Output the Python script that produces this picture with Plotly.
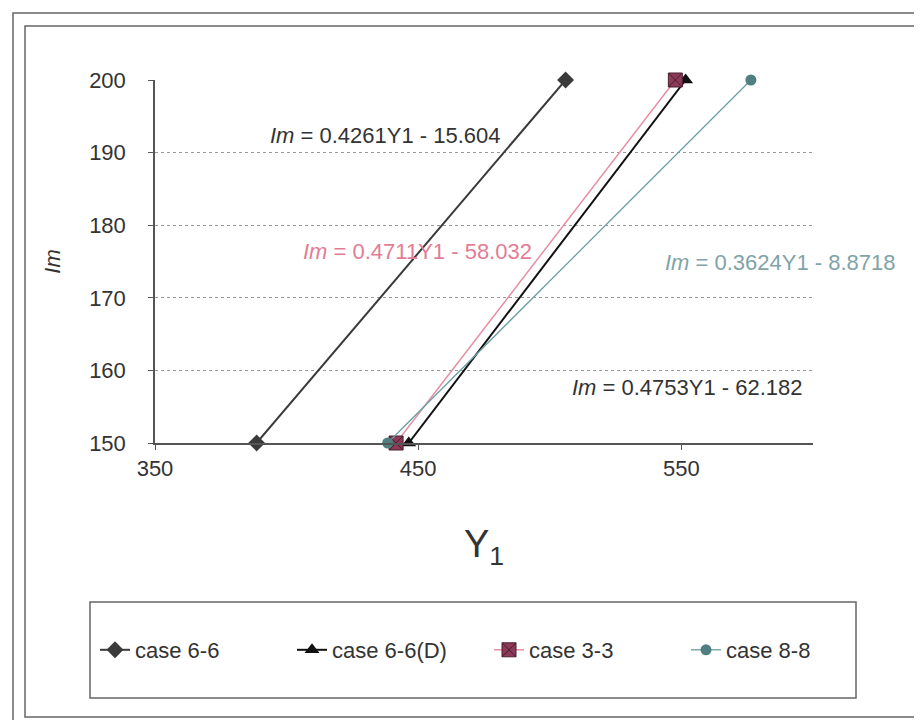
import plotly.graph_objects as go

# dados (Im x Y1)
casos = ["case 6-6", "case 6-6(D)", "case 3-3", "case 8-8"]
y1_66 = [388.6, 506.0]
y1_66d = [446.4, 551.6]
y1_33 = [441.6, 547.7]
y1_88 = [438.4, 576.4]
im_vals = [150, 200]

equacoes = ["<i>Im</i> = 0.4261Y1 - 15.604",
            "<i>Im</i> = 0.4711Y1 - 58.032",
            "<i>Im</i> = 0.3624Y1 - 8.8718",
            "<i>Im</i> = 0.4753Y1 - 62.182"]
eq_x = [437.4, 449.9, 587.5, 552.5]
eq_y = [192.3, 176.4, 174.8, 157.6]

fonte = "Liberation Sans, Arial, sans-serif"

# margens do grafico em pixels
L, R, T, B = 147, 117, 72, 285
W, H = 922, 720
pw, ph = W - L - R, H - T - B

def px(x):
    return (x - L) / pw

def py(y):
    return (H - B - y) / ph

fig = go.Figure()
fig.add_trace(go.Scatter(x=y1_66, y=im_vals, name=casos[0], mode="lines+markers",
                         line=dict(color="#3a3a3a", width=2), cliponaxis=False,
                         marker=dict(symbol="diamond", size=13, color="#3a3a3a")))
fig.add_trace(go.Scatter(x=y1_66d, y=im_vals, name=casos[1], mode="lines+markers",
                         line=dict(color="#111111", width=2), cliponaxis=False,
                         marker=dict(symbol="triangle-up", size=13, color="#111111")))
fig.add_trace(go.Scatter(x=y1_33, y=im_vals, name=casos[2], mode="lines+markers",
                         line=dict(color="#e58fa3", width=1.5), cliponaxis=False,
                         marker=dict(symbol="square-x", size=14, color="#8c3a58",
                                     line=dict(color="#4a1e2e", width=1))))
fig.add_trace(go.Scatter(x=y1_88, y=im_vals, name=casos[3], mode="lines+markers",
                         line=dict(color="#6a9ea3", width=1.3), cliponaxis=False,
                         marker=dict(symbol="circle", size=11, color="#4f7f80")))

cores_eq = ["#333333", "#e27d94", "#7fa3a8", "#333333"]
for t, x, y, c in zip(equacoes, eq_x, eq_y, cores_eq):
    fig.add_annotation(x=x, y=y, text=t, showarrow=False,
                       font=dict(size=22, color=c, family=fonte))

# molduras
linha = dict(color="#666666", width=1.5)
fig.add_shape(type="rect", xref="paper", yref="paper",
              x0=px(5), x1=px(918), y0=py(717), y1=py(5), line=linha, layer="below")
fig.add_shape(type="rect", xref="paper", yref="paper",
              x0=px(17), x1=px(912), y0=py(709), y1=py(18), line=linha, layer="below")
fig.add_shape(type="rect", xref="paper", yref="paper",
              x0=px(82), x1=px(848), y0=py(690), y1=py(594), line=linha, layer="below")

fig.update_layout(
    width=W, height=H,
    margin=dict(l=L, r=R, t=T, b=B),
    paper_bgcolor="white", plot_bgcolor="white",
    font=dict(family=fonte, size=22, color="#333333"),
    showlegend=True,
    legend=dict(orientation="h", x=px(87), y=py(642), xanchor="left", yanchor="middle",
                entrywidth=152, font=dict(size=22), bgcolor="rgba(0,0,0,0)"),
)
fig.update_xaxes(range=[350, 600], tick0=350, dtick=100, showgrid=False,
                 showline=True, linecolor="#555555", linewidth=1.5,
                 ticks="outside", ticklen=5, tickcolor="#555555",
                 zeroline=False, ticklabelstandoff=0,
                 title=dict(text="Y<sub>1</sub>", font=dict(size=38), standoff=50))
fig.update_yaxes(range=[150, 200], dtick=10, showgrid=True,
                 gridcolor="#9a9a9a", griddash="dot", gridwidth=1,
                 showline=True, linecolor="#555555", linewidth=1.5,
                 ticks="outside", ticklen=5, tickcolor="#555555",
                 zeroline=False, ticklabelstandoff=18,
                 title=dict(text="<i>Im</i>", font=dict(size=22), standoff=22))

fig.write_html("out.html")
